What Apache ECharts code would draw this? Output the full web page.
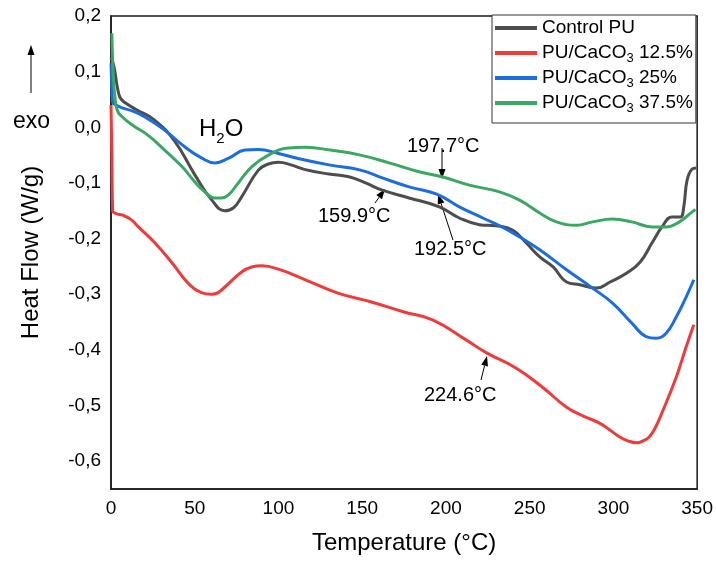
<!DOCTYPE html>
<html>
<head>
<meta charset="utf-8">
<title>DSC PU/CaCO3</title>
<script src="https://cdn.jsdelivr.net/npm/echarts@6/dist/echarts.min.js"></script>
<style>
	html, body { margin: 0; padding: 0; background: #fff; }
	#main { width: 716px; height: 561px; }
</style>
</head>
<body>
<div id="main"></div>
<script>
// temperature (°C), heat flow (W/g)
var controlPU = [
	[0, 0.126], [1.5, 0.112], [2.6, 0.095], [3.8, 0.072], [5.5, 0.053], [8.5, 0.044], [15, 0.032],
	[26, 0.013], [38, -0.025], [50, -0.085], [60, -0.130], [68, -0.150], [73, -0.145], [78, -0.125],
	[88, -0.077], [94, -0.066], [100, -0.063], [108, -0.068], [116, -0.076], [130, -0.084], [142, -0.089],
	[152, -0.100], [162, -0.113], [178, -0.127], [196, -0.143], [208, -0.163], [220, -0.175], [230, -0.177],
	[240, -0.185], [248, -0.208], [256, -0.233], [264, -0.251], [272, -0.278], [280, -0.283], [290, -0.289],
	[298, -0.278], [308, -0.262], [316, -0.242], [323, -0.208], [329, -0.179], [335, -0.161], [340, -0.161],
	[342, -0.143], [344, -0.095], [347, -0.075], [349.5, -0.073]
];
var pu125 = [
	[0, 0.040], [0.5, -0.050], [1, -0.150], [3, -0.155], [7, -0.158], [12, -0.166], [16, -0.178],
	[26, -0.207], [36.5, -0.244], [46, -0.280], [54, -0.297], [60, -0.300], [64, -0.297], [68, -0.287],
	[78, -0.260], [84, -0.251], [90, -0.249], [100, -0.255], [116, -0.274], [135.5, -0.298], [155.5, -0.314],
	[175, -0.332], [192, -0.346], [212, -0.382], [224, -0.405], [242, -0.433], [258, -0.468], [272, -0.503],
	[282, -0.519], [292, -0.532], [303.5, -0.556], [309, -0.564], [314, -0.567], [318, -0.563], [321.5, -0.556],
	[325, -0.540], [329, -0.513], [337.5, -0.449], [343.4, -0.395], [348, -0.355]
];
var pu25 = [
	[0, 0.115], [0.5, 0.070], [1, 0.045], [3, 0.040], [6.7, 0.035], [13, 0.029], [20, 0.019], [32, -0.005],
	[44, -0.035], [54, -0.055], [62, -0.064], [70, -0.056], [80, -0.041], [88, -0.040], [100, -0.047],
	[113, -0.057], [131, -0.068], [149, -0.077], [162, -0.091], [178, -0.107], [194.5, -0.120], [208, -0.143],
	[222, -0.163], [232, -0.177], [244, -0.197], [256, -0.220], [272, -0.256], [287.5, -0.289], [299.5, -0.316],
	[311, -0.352], [319.5, -0.376], [325.5, -0.379], [331.5, -0.370], [337.5, -0.341], [343.4, -0.305], [348, -0.274]
];
var pu375 = [
	[0.5, 0.169], [1.4, 0.090], [2.5, 0.050], [3.7, 0.031], [5.5, 0.022], [12.7, 0.004], [22, -0.014],
	[32, -0.041], [42.5, -0.071], [50, -0.098], [56, -0.116], [62, -0.127], [66, -0.127], [70, -0.122],
	[76, -0.100], [84, -0.071], [94, -0.050], [106, -0.037], [116, -0.036], [131, -0.041], [149, -0.050],
	[166, -0.064], [184, -0.080], [197.5, -0.089], [214, -0.104], [232, -0.116], [244, -0.131], [256, -0.154],
	[266, -0.170], [278, -0.176], [287.5, -0.170], [299.5, -0.165], [311, -0.170], [323, -0.179], [331.5, -0.179],
	[339.4, -0.170], [347, -0.152], [349, -0.148]
];
var seriesNames = ['Control PU', 'PU/CaCO3 12.5%', 'PU/CaCO3 25%', 'PU/CaCO3 37.5%'];
var seriesColors = ['#4d4d4d', '#ef3b3b', '#1b6de0', '#3aa862'];

var FONT = '"Liberation Sans", Arial, sans-serif';

function yLabel(value){
	var n = Math.round(value * 100);
	if (n % 10 !== 0) return '';
	if (n === 0) return '0,0';
	return (n / 100).toFixed(1).replace('.', ',');
}

// arrow: line + filled head, pixel coords
function arrow(x1, y1, x2, y2){
	var dx = x2 - x1, dy = y2 - y1;
	var len = Math.sqrt(dx * dx + dy * dy);
	var ux = dx / len, uy = dy / len;
	var hl = 10, hw = 3.5;
	var bx = x2 - ux * hl, by = y2 - uy * hl;
	return [{
		type: 'line',
		shape: { x1: x1, y1: y1, x2: bx, y2: by },
		style: { stroke: '#000', lineWidth: 1 }
	}, {
		type: 'polygon',
		shape: { points: [[x2, y2], [bx - uy * hw, by + ux * hw], [bx + uy * hw, by - ux * hw]] },
		style: { fill: '#000' }
	}];
}

function label(text, x, y, size){
	return {
		type: 'text',
		x: x,
		y: y,
		style: {
			text: text,
			fill: '#000',
			font: (size || 20) + 'px ' + FONT,
			verticalAlign: 'middle'
		}
	};
}

var chart = echarts.init(document.getElementById('main'));

var graphics = [
	label('159.9°C', 318, 216),
	label('197.7°C', 407, 146),
	label('192.5°C', 414, 249),
	label('224.6°C', 424, 395),
	label('exo', 13, 122, 23),
	{
		type: 'text',
		x: 199,
		y: 129,
		style: {
			text: 'H{sub|2}O',
			fill: '#000',
			font: '24px ' + FONT,
			lineHeight: 34,
			verticalAlign: 'middle',
			rich: {
				sub: { fontSize: 15, lineHeight: 15, verticalAlign: 'bottom', fontFamily: FONT }
			}
		}
	}
];
graphics = graphics.concat(arrow(375, 203, 385, 189));
graphics = graphics.concat(arrow(442, 148, 442, 179));
graphics = graphics.concat(arrow(453, 240, 438, 194));
graphics = graphics.concat(arrow(481, 380, 487, 356));
graphics = graphics.concat(arrow(31, 93, 31, 45));

var series = [];
var allData = [controlPU, pu125, pu25, pu375];
for (var i = 0; i < allData.length; i++) {
	series.push({
		name: seriesNames[i],
		type: 'line',
		data: allData[i],
		smooth: 0.45,
		showSymbol: false,
		symbol: 'none',
		clip: true,
		lineStyle: { color: seriesColors[i], width: 3 },
		itemStyle: { color: seriesColors[i] },
		z: 2 + i
	});
}

var option = {
	animation: false,
	backgroundColor: '#fff',
	textStyle: { fontFamily: FONT },
	grid: {
		left: 111,
		right: 18,
		top: 16,
		bottom: 72,
		show: true,
		borderColor: '#1a1a1a',
		borderWidth: 1.5,
		containLabel: false
	},
	legend: {
		orient: 'vertical',
		left: 492,
		top: 15,
		padding: [1, 3, 8, 3],
		itemGap: 1,
		itemWidth: 42,
		itemHeight: 4,
		icon: 'rect',
		backgroundColor: '#fff',
		borderColor: '#333',
		borderWidth: 1,
		borderRadius: 0,
		data: seriesNames,
		formatter: function(name){
			return name.replace('CaCO3', 'CaCO{sub|3}');
		},
		textStyle: {
			color: '#000',
			fontSize: 19,
			lineHeight: 24,
			fontFamily: FONT,
			rich: {
				sub: { fontSize: 13, lineHeight: 12, verticalAlign: 'bottom', fontFamily: FONT, color: '#000' }
			}
		}
	},
	xAxis: {
		type: 'value',
		min: 0,
		max: 350,
		interval: 50,
		name: 'Temperature (°C)',
		nameLocation: 'middle',
		nameGap: 42,
		nameTextStyle: { color: '#000', fontSize: 24, fontFamily: FONT },
		axisLine: { onZero: false, lineStyle: { color: '#1a1a1a', width: 1.5 } },
		axisTick: { show: false },
		axisLabel: { color: '#000', fontSize: 19, margin: 10, fontFamily: FONT },
		splitLine: { show: false }
	},
	yAxis: {
		type: 'value',
		min: -0.65,
		max: 0.2,
		interval: 0.05,
		name: 'Heat Flow (W/g)',
		nameLocation: 'middle',
		nameGap: 68,
		nameTextStyle: { color: '#000', fontSize: 24, fontFamily: FONT },
		axisLine: { show: true, onZero: false, lineStyle: { color: '#1a1a1a', width: 1.5 } },
		axisTick: { show: false },
		axisLabel: { color: '#000', fontSize: 19, margin: 10, fontFamily: FONT, formatter: yLabel },
		splitLine: { show: false }
	},
	graphic: graphics,
	series: series
};

chart.setOption(option);
</script>
</body>
</html>
